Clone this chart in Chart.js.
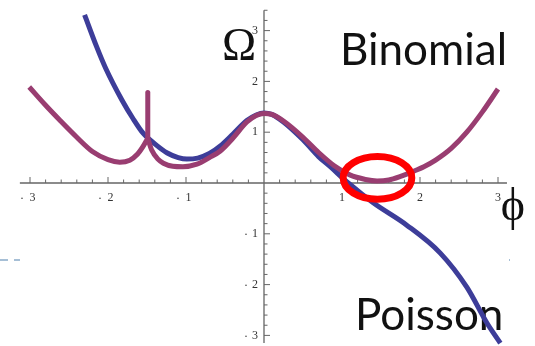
<!DOCTYPE html>
<html>
<head>
<meta charset="utf-8">
<script src="https://cdn.jsdelivr.net/npm/chart.js@4/dist/chart.umd.min.js"></script>
<style>
  html, body { margin: 0; padding: 0; background: #fff; }
  #wrap { width: 535px; height: 346px; position: relative; }
</style>
</head>
<body>
<div id="wrap"><canvas id="c"></canvas></div>
<script>
// Ω(φ) for the Poisson case
const poissonX = [-2.30, -2.15, -2.03, -1.82, -1.68, -1.55, -1.40, -1.24, -1.10, -0.99, -0.85, -0.70, -0.56, -0.40, -0.22, -0.10, 0.00, 0.10, 0.25, 0.50, 0.70, 0.85, 1.08, 1.40, 1.83, 2.26, 2.60, 2.86, 3.03];
const poissonY = [3.31, 2.70, 2.26, 1.63, 1.27, 0.98, 0.77, 0.59, 0.50, 0.47, 0.49, 0.58, 0.73, 0.96, 1.23, 1.34, 1.38, 1.35, 1.20, 0.85, 0.52, 0.32, 0.00, -0.39, -0.83, -1.38, -2.05, -2.76, -3.15];

// Ω(φ) for the Binomial case: branch left of the cusp, the cusp spike, branch right of it
const binomialLeftX = [-3.01, -2.80, -2.62, -2.40, -2.20, -2.00, -1.85, -1.72, -1.62, -1.55, -1.49];
const binomialLeftY = [1.89, 1.53, 1.24, 0.90, 0.62, 0.46, 0.41, 0.45, 0.57, 0.72, 0.88];
const binomialSpikeX = [-1.49, -1.49];
const binomialSpikeY = [0.88, 1.78];
const binomialRightX = [-1.49, -1.44, -1.36, -1.29, -1.17, -1.04, -0.86, -0.70, -0.56, -0.40, -0.22, -0.10, 0.00, 0.10, 0.25, 0.50, 0.70, 0.90, 1.10, 1.30, 1.45, 1.60, 1.75, 1.90, 2.05, 2.20, 2.40, 2.60, 2.80, 3.00];
const binomialRightY = [0.88, 0.65, 0.47, 0.39, 0.33, 0.32, 0.37, 0.50, 0.63, 0.88, 1.20, 1.33, 1.37, 1.35, 1.22, 0.90, 0.60, 0.34, 0.16, 0.07, 0.04, 0.06, 0.13, 0.22, 0.32, 0.45, 0.68, 1.00, 1.40, 1.85];

// axis ticks and their labels
const xTickValues = [-3, -2, -1, 1, 2, 3];
const xTickLabels = ['· 3', '· 2', '· 1', '1', '2', '3'];
const yTickValues = [-3, -2, -1, 1, 2, 3];
const yTickLabels = ['· 3', '· 2', '· 1', '1', '2', '3'];
const minorStep = 0.2;

// highlighted minimum of the Binomial curve
const ringCenter = [1.455, 0.10];
const ringRadius = [0.44, 0.42];

const pts = (xs, ys) => xs.map((v, i) => ({ x: v, y: ys[i] }));

const BLUE = '#3d3d99';
const PURPLE = '#993d71';
const AXIS = '#666666';
const LABEL_FONT = '12px "Liberation Serif", "Times New Roman", serif';

function drawTickLabel(ctx, text, cx, cy, align) {
  // a leading "·" stands for the minus sign, drawn as a small separate dot
  const neg = text.startsWith('·');
  const num = neg ? text.slice(2) : text;
  ctx.font = LABEL_FONT;
  ctx.fillStyle = '#333';
  ctx.textBaseline = 'middle';
  if (align === 'center') {
    ctx.textAlign = 'center';
    ctx.fillText(num, neg ? cx + 2.5 : cx, cy);
    if (neg) ctx.fillText('·', cx - 8, cy + 1);
  } else {
    ctx.textAlign = 'right';
    ctx.fillText(num, cx, cy);
    if (neg) { ctx.textAlign = 'center'; ctx.fillText('·', cx - 12, cy + 1); }
  }
}

const crossAxes = {
  id: 'crossAxes',
  beforeDatasetsDraw(chart) {
    const { ctx, scales: { x, y } } = chart;
    const X = v => x.getPixelForValue(v);
    const Y = v => y.getPixelForValue(v);
    ctx.save();

    // slide decoration on the left margin
    ctx.fillStyle = '#a6bfd6';
    ctx.fillRect(0, 259, 8, 2);
    ctx.fillRect(14, 259, 6, 2);
    ctx.fillRect(509, 259, 1, 2);

    ctx.strokeStyle = AXIS;
    ctx.lineWidth = 1.3;
    ctx.beginPath();
    ctx.moveTo(X(-3.13), Y(0)); ctx.lineTo(X(3.115), Y(0));
    ctx.moveTo(X(0), Y(3.4)); ctx.lineTo(X(0), Y(-3.15));
    ctx.stroke();

    ctx.lineWidth = 1;
    ctx.beginPath();
    for (let i = -15; i <= 15; i++) {
      if (i === 0) continue;
      const v = i * minorStep;
      const len = i % 5 === 0 ? 6 : 3.5;
      ctx.moveTo(X(v), Y(0)); ctx.lineTo(X(v), Y(0) - len);
    }
    for (let i = -15; i <= 17; i++) {
      if (i === 0) continue;
      const v = i * minorStep;
      const len = i % 5 === 0 ? 6 : 3.5;
      ctx.moveTo(X(0), Y(v)); ctx.lineTo(X(0) + len, Y(v));
    }
    ctx.stroke();

    xTickValues.forEach((v, i) => drawTickLabel(ctx, xTickLabels[i], X(v), Y(0) + 14.5, 'center'));
    yTickValues.forEach((v, i) => drawTickLabel(ctx, yTickLabels[i], X(0) - 6, Y(v), 'right'));

    // axis names and curve names
    ctx.fillStyle = '#111';
    ctx.textBaseline = 'alphabetic';
    ctx.textAlign = 'left';
    ctx.font = '46px "Liberation Serif", "Times New Roman", serif';
    ctx.fillText('Ω', X(-0.54), Y(2.42));
    ctx.textAlign = 'center';
    ctx.fillText('ϕ', X(3.19), Y(-0.72));
    ctx.textAlign = 'left';
    ctx.font = '44px Lato, "Open Sans", sans-serif';
    ctx.fillText('Binomial', X(0.974), Y(2.32));
    ctx.fillText('Poisson', X(1.167), Y(-2.89));
    ctx.restore();
  },
  afterDatasetsDraw(chart) {
    const { ctx, scales: { x, y } } = chart;
    const cx = x.getPixelForValue(ringCenter[0]);
    const cy = y.getPixelForValue(ringCenter[1]);
    const rx = Math.abs(x.getPixelForValue(ringCenter[0] + ringRadius[0]) - cx);
    const ry = Math.abs(y.getPixelForValue(ringCenter[1] + ringRadius[1]) - cy);
    ctx.save();
    ctx.strokeStyle = '#ff0000';
    ctx.lineWidth = 7;
    ctx.beginPath();
    ctx.ellipse(cx, cy, rx, ry, 0, 0, Math.PI * 2);
    ctx.stroke();
    ctx.restore();
  }
};

const curve = (data, color, extra) => Object.assign({
  data, borderColor: color, borderWidth: 5, showLine: true,
  pointRadius: 0, fill: false, clip: false,
  cubicInterpolationMode: 'monotone', borderCapStyle: 'butt', borderJoinStyle: 'round'
}, extra);

new Chart(document.getElementById('c'), {
  type: 'scatter',
  data: {
    datasets: [
      curve(pts(binomialLeftX, binomialLeftY), PURPLE, { order: 0 }),
      curve(pts(binomialSpikeX, binomialSpikeY), PURPLE, { order: 0, cubicInterpolationMode: 'default', tension: 0, borderCapStyle: 'round' }),
      curve(pts(binomialRightX, binomialRightY), PURPLE, { order: 0 }),
      curve(pts(poissonX, poissonY), BLUE, { order: 1 })
    ]
  },
  options: {
    responsive: true,
    maintainAspectRatio: false,
    animation: false,
    events: [],
    layout: { padding: { left: 6.6, right: 9.7, top: 10.28, bottom: 0.44 } },
    scales: {
      x: { type: 'linear', min: -3.3, max: 3.35, display: false },
      y: { type: 'linear', min: -3.2, max: 3.4, display: false }
    },
    plugins: { legend: { display: false }, tooltip: { enabled: false } }
  },
  plugins: [crossAxes]
});
</script>
</body>
</html>
